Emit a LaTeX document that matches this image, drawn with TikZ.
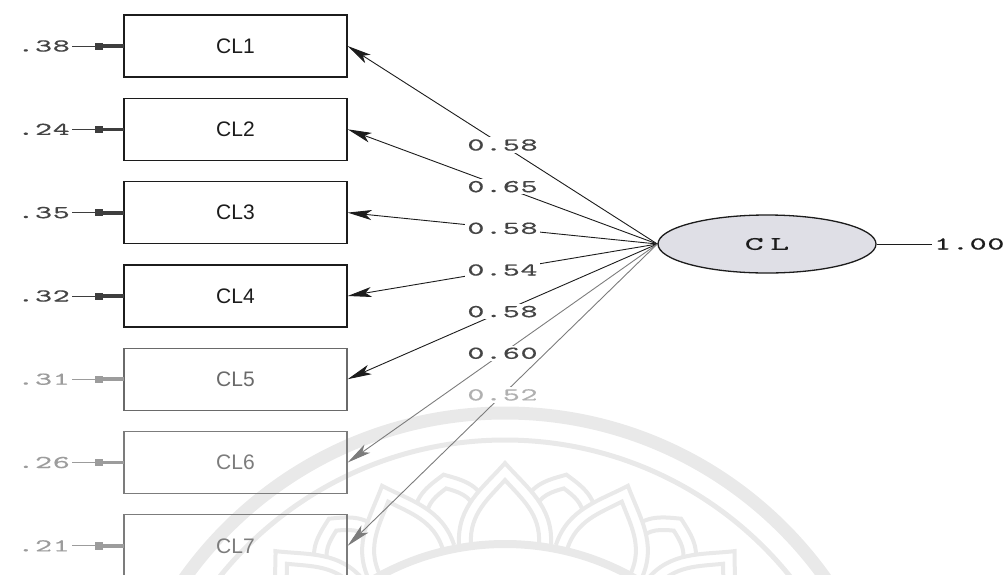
\documentclass[tikz,border=0pt]{standalone}
\usepackage{fontspec}
\setsansfont{Liberation Sans}
% wide typewriter faces for the path coefficients and the latent name
\newfontfamily\lisnum{lmmono10-regular.otf}[FakeStretch=1.8,LetterSpace=4,FakeBold=0.6]
\newfontfamily\lisname{lmmono10-regular.otf}[FakeStretch=1.9,LetterSpace=35,FakeBold=0.5]
\usetikzlibrary{arrows.meta,shapes.geometric}

\definecolor{ink}{HTML}{1C1C1C}
\definecolor{dimink}{HTML}{6A6A6A}
\definecolor{paleink}{HTML}{7C7C7C}
\definecolor{numink}{HTML}{444444}
\definecolor{palenum}{HTML}{9C9C9C}
\definecolor{latfill}{HTML}{DFDFE6}
\definecolor{seal}{HTML}{E9E9E9}

\begin{document}
\begin{tikzpicture}[x=1pt,y=-1pt,
  obsbox/.style={draw, line width=1.3pt, minimum width=223pt, minimum height=62pt,
                 inner sep=0pt, font=\sffamily\fontsize{21}{24}\selectfont},
  errlab/.style={anchor=east, inner sep=2pt, font=\lisnum\fontsize{18}{20}\selectfont},
  errline/.style={line width=0.8pt,
                  -{Rectangle[length=7pt,width=7pt]Rectangle[length=21pt,width=3.5pt]}},
  load/.style={line width=0.9pt, -{Stealth[length=24pt,width=10pt,inset=6pt]}},
  coef/.style={fill=white, inner sep=2pt, font=\lisnum\fontsize{18}{20}\selectfont},
  petal/.style={draw=seal, line width=4pt, fill=white},
  petalin/.style={draw=seal, line width=4pt}
]
\useasboundingbox (0,0) rectangle (1006,574);
\clip (0,0) rectangle (1006,574);

% faint lotus seal in the background
\begin{scope}[shift={(505,806)}]
  \draw[seal, line width=13pt] (0,0) circle[radius=393];
  \draw[seal, line width=5pt] (0,0) circle[radius=366];
  \foreach \a in {-52.5,-31.5,-10.5,10.5,31.5,52.5} {
    \begin{scope}[rotate=\a]
      \path[petal] (-36,-262) -- (-36,-300) .. controls (-34,-322) and (-14,-330) .. (0,-337)
                   .. controls (14,-330) and (34,-322) .. (36,-300) -- (36,-262);
      \draw[petalin] (-25,-262) -- (-25,-296) .. controls (-23,-312) and (-10,-318) .. (0,-323)
                   .. controls (10,-318) and (23,-312) .. (25,-296) -- (25,-262);
    \end{scope}
  }
  \foreach \a in {-63,-42,-21,0,21,42,63} {
    \begin{scope}[rotate=\a]
      \path[petal] (-46,-262) .. controls (-48,-300) and (-22,-318) .. (0,-343)
                   .. controls (22,-318) and (48,-300) .. (46,-262);
      \draw[petalin] (-34,-262) .. controls (-36,-292) and (-16,-308) .. (0,-326)
                   .. controls (16,-308) and (36,-292) .. (34,-262);
    \end{scope}
  }
  \draw[seal, line width=8pt] (0,0) circle[radius=262];
\end{scope}

% observed indicators
\node[obsbox, draw=ink, text=ink]         (b1) at (235.5,46)    {CL1};
\node[obsbox, draw=ink, text=ink]         (b2) at (235.5,129.3) {CL2};
\node[obsbox, draw=ink, text=ink]         (b3) at (235.5,212.6) {CL3};
\node[obsbox, draw=ink, text=ink]         (b4) at (235.5,296)   {CL4};
\node[obsbox, draw=dimink, text=dimink]   (b5) at (235.5,379.2) {CL5};
\node[obsbox, draw=paleink, text=paleink] (b6) at (235.5,462.5) {CL6};
\node[obsbox, draw=paleink, text=paleink] (b7) at (235.5,545.8) {CL7};

% error variances
\node[errlab, text=numink]  (e1) at (72,46)    {.38};
\node[errlab, text=numink]  (e2) at (72,129.3) {.24};
\node[errlab, text=numink]  (e3) at (72,212.6) {.35};
\node[errlab, text=numink]  (e4) at (72,296)   {.32};
\node[errlab, text=palenum] (e5) at (72,379.2) {.31};
\node[errlab, text=palenum] (e6) at (72,462.5) {.26};
\node[errlab, text=palenum] (e7) at (72,545.8) {.21};

\draw[errline, draw=ink!85, fill=ink!85] (e1.east) -- (b1.west);
\draw[errline, draw=ink!85, fill=ink!85] (e2.east) -- (b2.west);
\draw[errline, draw=ink!85, fill=ink!85] (e3.east) -- (b3.west);
\draw[errline, draw=ink!85, fill=ink!85] (e4.east) -- (b4.west);
\draw[errline, draw=palenum, fill=palenum] (e5.east) -- (b5.west);
\draw[errline, draw=palenum, fill=palenum] (e6.east) -- (b6.west);
\draw[errline, draw=palenum, fill=palenum] (e7.east) -- (b7.west);

% latent factor
\node[ellipse, draw=ink, line width=1.3pt, fill=latfill, minimum width=218pt,
      minimum height=58pt, inner sep=0pt, text=ink,
      font=\lisname\fontsize{19}{21}\selectfont] (cl) at (767,244) {CL};
\node[coef, anchor=west, fill=none, text=ink] (var) at (932,244) {1.00};
\draw[line width=0.6pt, ink] (cl.east) -- (var.west);

% factor loadings
\draw[load, ink]     (cl.west) -- node[coef, text=numink]  {0.58} (b1.east);
\draw[load, ink]     (cl.west) -- node[coef, text=numink]  {0.65} (b2.east);
\draw[load, ink]     (cl.west) -- node[coef, text=numink]  {0.58} (b3.east);
\draw[load, ink]     (cl.west) -- node[coef, text=numink]  {0.54} (b4.east);
\draw[load, ink]     (cl.west) -- node[coef, text=numink]  {0.58} (b5.east);
\draw[load, paleink] (cl.west) -- node[coef, text=numink]  {0.60} (b6.east);
\draw[load, paleink] (cl.west) -- node[coef, text=palenum!80] {0.52} (b7.east);
\end{tikzpicture}
\end{document}
